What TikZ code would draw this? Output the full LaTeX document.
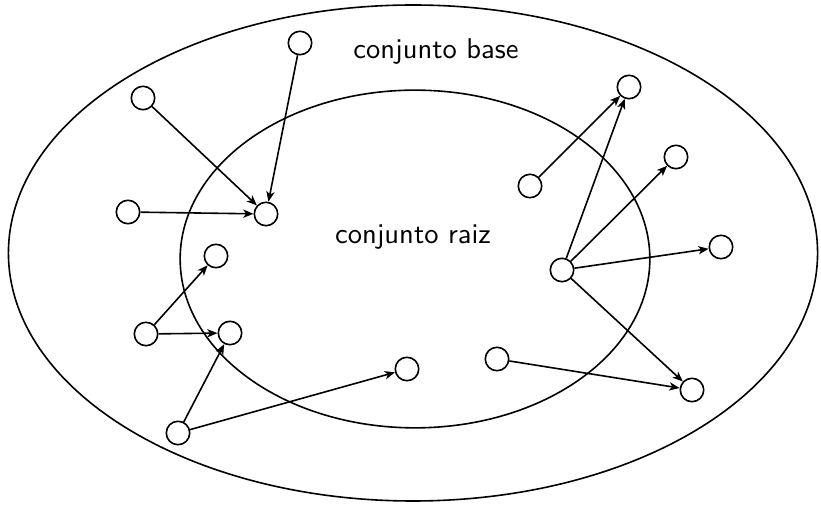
\documentclass[tikz,border=0pt]{standalone}
\usetikzlibrary{arrows.meta}
\begin{document}
\begin{tikzpicture}[x=0.35pt,y=-0.35pt,
  vtx/.style={circle,draw,line width=0.56pt,minimum size=8.2pt,inner sep=0pt},
  arr/.style={line width=0.56pt,-{Stealth[length=3.6pt,width=2.9pt,inset=1pt]}},
  lbl/.style={font=\sffamily\fontsize{10}{12}\selectfont}]
\useasboundingbox (0,0) rectangle (821,505);
\draw[line width=0.56pt] (413,253) ellipse [x radius=141.6pt, y radius=86.8pt];
\draw[line width=0.56pt] (415,259) ellipse [x radius=82.2pt, y radius=59.1pt];
\node[lbl] (tb) at (436,52) {conjunto base};
\node[lbl] (tr) at (413,237) {conjunto raiz};
\node[vtx] (a) at (300,43) {};
\node[vtx] (b) at (143,98) {};
\node[vtx] (c) at (266,214) {};
\node[vtx] (d) at (128,212) {};
\node[vtx] (e) at (216,256) {};
\node[vtx] (f) at (146,334) {};
\node[vtx] (g) at (230,333) {};
\node[vtx] (h) at (178,433) {};
\node[vtx] (i) at (407,369) {};
\node[vtx] (j) at (530,186) {};
\node[vtx] (k) at (629,87) {};
\node[vtx] (l) at (676,157) {};
\node[vtx] (m) at (721,247) {};
\node[vtx] (n) at (562,270) {};
\node[vtx] (o) at (497,359) {};
\node[vtx] (p) at (692,390) {};
\draw[arr] (a) -- (c);
\draw[arr] (b) -- (c);
\draw[arr] (d) -- (c);
\draw[arr] (f) -- (e);
\draw[arr] (f) -- (g);
\draw[arr] (h) -- (g);
\draw[arr] (h) -- (i);
\draw[arr] (j) -- (k);
\draw[arr] (n) -- (k);
\draw[arr] (n) -- (l);
\draw[arr] (n) -- (m);
\draw[arr] (n) -- (p);
\draw[arr] (o) -- (p);
\end{tikzpicture}
\end{document}
